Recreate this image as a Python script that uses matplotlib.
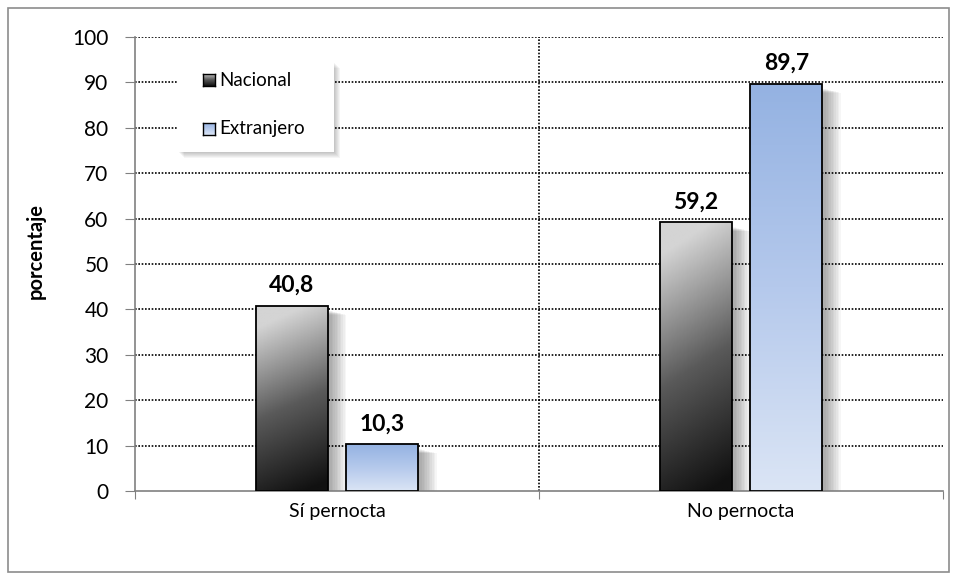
import matplotlib
matplotlib.use("Agg")
import matplotlib.pyplot as plt
import numpy as np
from matplotlib.patches import Rectangle
from matplotlib.colors import LinearSegmentedColormap

categories = ["Sí pernocta", "No pernocta"]
series_names = ["Nacional", "Extranjero"]
nacional = [40.8, 59.2]
extranjero = [10.3, 89.7]
value_labels_nac = ["40,8", "59,2"]
value_labels_ext = ["10,3", "89,7"]
y_ticks = list(range(0, 101, 10))

plt.rcParams['font.family'] = ['Lato', 'DejaVu Sans']

fig = plt.figure(figsize=(9.57, 5.8), dpi=100)
fig.patches.append(Rectangle((8/957, 8/580), 941/957, 564/580, transform=fig.transFigure,
                             fill=False, edgecolor='#8c8c8c', linewidth=1.2, zorder=0))
ax = fig.add_axes([135/957, 1-491/580, 808/957, 454/580])
ax.set_xlim(-0.5, 1.5)
ax.set_ylim(0, 100)

cmap_nac = LinearSegmentedColormap.from_list('nac', ['#111111', '#5a5a5a', '#d4d4d4'])
cmap_ext = LinearSegmentedColormap.from_list('ext', ['#dbe5f5', '#b5c9ec', '#94b2e2'])

width = 0.178
offset = 0.112
x = np.arange(len(categories))

def grad_bar(xc, h, cmap, horiz_light=False):
    x0 = xc - width/2
    n = 10
    for i in range(n):
        d = 0.004*(i+1)
        sh = Rectangle((x0 + 0.006 + d, 0), width, max(h - 1.0 - d*25, 0), facecolor='black',
                       alpha=0.035, edgecolor='none', zorder=2)
        ax.add_patch(sh)
    rect = Rectangle((x0, 0), width, h, facecolor='none', edgecolor='black', linewidth=1.3, zorder=4)
    ax.add_patch(rect)
    grad = np.linspace(0, 1, 256).reshape(-1, 1)
    if horiz_light:
        hx = np.linspace(0.12, -0.05, 64).reshape(1, -1)
        img = np.clip(grad + hx, 0, 1)
    else:
        img = np.repeat(grad, 2, axis=1)
    im = ax.imshow(img, cmap=cmap, origin='lower', aspect='auto',
                   extent=[x0, x0 + width, 0, h], zorder=3, vmin=0, vmax=1)
    clip = Rectangle((x0, 0), width, h, transform=ax.transData, facecolor='none', edgecolor='none')
    ax.add_patch(clip)
    im.set_clip_path(clip)

for i in range(len(categories)):
    grad_bar(x[i] - offset, nacional[i], cmap_nac, horiz_light=True)
    grad_bar(x[i] + offset, extranjero[i], cmap_ext)
    ax.text(x[i] - offset, nacional[i] + 2.2, value_labels_nac[i], ha='center', va='bottom',
            fontsize=16.5, fontweight='bold', zorder=5)
    ax.text(x[i] + offset, extranjero[i] + 2.2, value_labels_ext[i], ha='center', va='bottom',
            fontsize=16.5, fontweight='bold', zorder=5)

ax.set_xlim(-0.5, 1.5)
ax.set_ylim(0, 100)
ax.set_yticks(y_ticks)
ax.set_yticklabels([str(t) for t in y_ticks], fontsize=15)
ax.set_xticks([-0.5, 0.5, 1.5])
ax.set_xticklabels([])
ax.set_xticks(x, minor=True)
ax.set_xticklabels(categories, minor=True, fontsize=14)
ax.tick_params(axis='x', which='minor', length=0, pad=9)
ax.tick_params(axis='x', which='major', length=6, color='#808080', direction='out')
ax.tick_params(axis='y', length=7, color='#808080', direction='out', pad=12)

for yv in y_ticks[1:]:
    ax.axhline(yv, color='black', linestyle=(0, (1, 1)), linewidth=1.2, zorder=1)
ax.axvline(0.5, color='black', linestyle=(0, (1, 1)), linewidth=1.2, zorder=1)

for s in ['top', 'right']:
    ax.spines[s].set_visible(False)
ax.spines['left'].set_color('#808080')
ax.spines['bottom'].set_color('#808080')
ax.spines['left'].set_linewidth(1.2)
ax.spines['bottom'].set_linewidth(1.2)

ax.set_ylabel('porcentaje', fontsize=14.5, fontweight='bold')
ax.yaxis.set_label_coords(-0.11, 0.528)

# legend
lx0, ly0, lw, lh = 178/957, 1-152/580, 156/957, 90/580
for i in range(6):
    d = (i+1)*1.0
    fig.patches.append(Rectangle((lx0 + d/957, ly0 - d/580), lw, lh,
                                 transform=fig.transFigure, facecolor='black', alpha=0.04,
                                 edgecolor='none', zorder=5))
fig.patches.append(Rectangle((lx0, ly0), lw, lh, transform=fig.transFigure,
                             facecolor='white', edgecolor='none', zorder=6))

def legend_swatch(px, py, cmap, name):
    s = 12
    sx, sy = px/957, 1-(py+s/2)/580
    sax = fig.add_axes([sx, sy, s/957, s/580], zorder=7)
    grad = np.linspace(0, 1, 64).reshape(-1, 1)
    sax.imshow(np.repeat(grad, 2, axis=1), cmap=cmap, origin='lower', aspect='auto')
    sax.set_xticks([]); sax.set_yticks([])
    for sp in sax.spines.values():
        sp.set_color('black'); sp.set_linewidth(1.0)
    fig.text((px + 16)/957, 1-py/580, name, fontsize=13.5, va='center', ha='left', zorder=8)

legend_swatch(203, 80, cmap_nac, series_names[0])
legend_swatch(203, 129, cmap_ext, series_names[1])

fig.savefig('out.png', dpi=100)
